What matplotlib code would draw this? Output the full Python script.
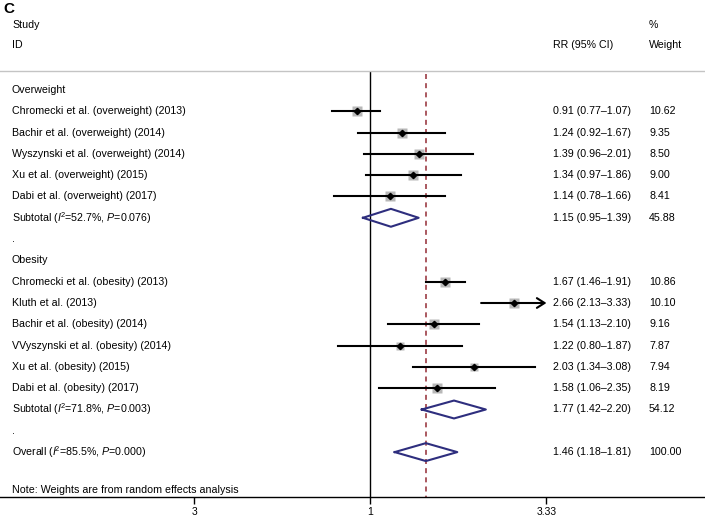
import numpy as np
import matplotlib
matplotlib.use("Agg")
import matplotlib.pyplot as plt
import matplotlib.transforms as mtransforms

plt.rcParams['font.family'] = 'Liberation Sans'
plt.rcParams['mathtext.fontset'] = 'custom'
plt.rcParams['mathtext.rm'] = 'Liberation Sans'
plt.rcParams['mathtext.it'] = 'Liberation Sans:italic'

# --- data ---
ow_labels = ["Chromecki et al. (overweight) (2013)", "Bachir et al. (overweight) (2014)",
             "Wyszynski et al. (overweight) (2014)", "Xu et al. (overweight) (2015)",
             "Dabi et al. (overweight) (2017)"]
ow_rr = [0.91, 1.24, 1.39, 1.34, 1.14]
ow_lo = [0.77, 0.92, 0.96, 0.97, 0.78]
ow_hi = [1.07, 1.67, 2.01, 1.86, 1.66]
ow_w = [10.62, 9.35, 8.50, 9.00, 8.41]

ob_labels = ["Chromecki et al. (obesity) (2013)", "Kluth et al. (2013)",
             "Bachir et al. (obesity) (2014)", "VVyszynski et al. (obesity) (2014)",
             "Xu et al. (obesity) (2015)", "Dabi et al. (obesity) (2017)"]
ob_rr = [1.67, 2.66, 1.54, 1.22, 2.03, 1.58]
ob_lo = [1.46, 2.13, 1.13, 0.80, 1.34, 1.06]
ob_hi = [1.91, 3.33, 2.10, 1.87, 3.08, 2.35]
ob_w = [10.86, 10.10, 9.16, 7.87, 7.94, 8.19]

sub_labels = ["Subtotal ($I^{\\!2}$=52.7%, $P$=0.076)", "Subtotal ($I^{\\!2}$=71.8%, $P$=0.003)"]
sub_rr = [1.15, 1.77]
sub_lo = [0.95, 1.42]
sub_hi = [1.39, 2.20]
sub_w = [45.88, 54.12]

overall_label = "Overall ($I^{\\!2}$=85.5%, $P$=0.000)"
overall_rr, overall_lo, overall_hi, overall_w = 1.46, 1.18, 1.81, 100.00

x_ticks = [0.3, 1, 3.33]
x_ticklabels = ["3", "1", "3.33"]
x_max = 3.33

# --- figure ---
W, H = 705, 517
fig = plt.figure(figsize=(W / 100, H / 100), dpi=100)
ax = fig.add_axes([0, 20 / H, 1, 497 / H])
ax.set_xscale('log')
ax.set_xlim(0.0795, 9.84)
ax.set_ylim(19.108, -4.225)
for s in ['left', 'right', 'top']:
    ax.spines[s].set_visible(False)
ax.spines['bottom'].set_linewidth(1.0)
ax.set_yticks([])
ax.set_xticks(x_ticks)
ax.set_xticklabels(x_ticklabels)
ax.xaxis.set_minor_locator(matplotlib.ticker.NullLocator())
ax.tick_params(axis='x', length=5, width=1, labelsize=7.5, pad=2)

tr = mtransforms.blended_transform_factory(ax.transAxes, ax.transData)
fs = 7.7
xl, xrr, xw = 12 / W, 553 / W, 649 / W
navy = '#2e2e7e'
dash = '#9c3c44'

# header
fig.text(3 / W, 1 - 9 / H, "C", fontsize=11, fontweight='bold', va='center')
ax.text(xl, -3.05, "Study", fontsize=fs, va='center', transform=tr)
ax.text(xl, -2.11, "ID", fontsize=fs, va='center', transform=tr)
ax.text(xw, -3.05, "%", fontsize=fs, va='center', transform=tr)
ax.text(xrr, -2.11, "RR (95% CI)", fontsize=fs, va='center', transform=tr)
ax.text(xw, -2.11, "Weight", fontsize=fs, va='center', transform=tr)
ax.plot([0, 1], [-0.9, -0.9], color='#c4c4c4', lw=1, transform=tr, clip_on=False)

# reference lines
ax.plot([1, 1], [-0.85, 19.108], color='black', lw=1, zorder=1)
ax.plot([overall_rr, overall_rr], [-0.75, 19.108], color=dash, lw=1.2,
        linestyle=(0, (3, 2.5)), zorder=1)


def study_row(y, label, rr, lo, hi, w):
    ax.text(xl, y, label, fontsize=fs, va='center', transform=tr)
    ax.text(xrr, y, f"{rr:.2f} ({lo:.2f}\u2013{hi:.2f})", fontsize=fs, va='center', transform=tr)
    ax.text(xw, y, f"{w:.2f}", fontsize=fs, va='center', transform=tr)
    side = 10.3 * np.sqrt(w / 10.62) * 0.72
    ax.plot(rr, y, marker='s', ms=side, color='#b8b8b8', mec='none', zorder=2)
    if hi >= x_max:
        ax.annotate('', xy=(hi, y), xytext=(lo, y),
                    arrowprops=dict(arrowstyle='->,head_length=0.55,head_width=0.35',
                                    lw=1.5, color='black', shrinkA=0, shrinkB=0), zorder=3)
    else:
        ax.plot([lo, hi], [y, y], color='black', lw=1.5, zorder=3)
    ax.plot(rr, y, marker='D', ms=3.2, color='black', zorder=4)


def pooled_row(y, label, rr, lo, hi, w):
    ax.text(xl, y, label, fontsize=fs, va='center', transform=tr)
    ax.text(xrr, y, f"{rr:.2f} ({lo:.2f}\u2013{hi:.2f})", fontsize=fs, va='center', transform=tr)
    ax.text(xw, y, f"{w:.2f}", fontsize=fs, va='center', transform=tr)
    ax.plot([lo, rr, hi, rr, lo], [y, y - 0.42, y, y + 0.42, y], color=navy, lw=1.5, zorder=5)


y = 0
ax.text(xl, y, "Overweight", fontsize=fs, va='center', transform=tr)
for i in range(len(ow_labels)):
    y += 1
    study_row(y, ow_labels[i], ow_rr[i], ow_lo[i], ow_hi[i], ow_w[i])
y += 1
pooled_row(y, sub_labels[0], sub_rr[0], sub_lo[0], sub_hi[0], sub_w[0])
y += 1
ax.text(xl, y, ".", fontsize=fs, va='center', transform=tr)
y += 1
ax.text(xl, y, "Obesity", fontsize=fs, va='center', transform=tr)
for i in range(len(ob_labels)):
    y += 1
    study_row(y, ob_labels[i], ob_rr[i], ob_lo[i], ob_hi[i], ob_w[i])
y += 1
pooled_row(y, sub_labels[1], sub_rr[1], sub_lo[1], sub_hi[1], sub_w[1])
y += 1
ax.text(xl, y, ".", fontsize=fs, va='center', transform=tr)
y += 1
pooled_row(y, overall_label, overall_rr, overall_lo, overall_hi, overall_w)

ax.text(xl, 18.78, "Note: Weights are from random effects analysis", fontsize=fs,
        va='center', transform=tr)

fig.savefig("out.png", dpi=100)
